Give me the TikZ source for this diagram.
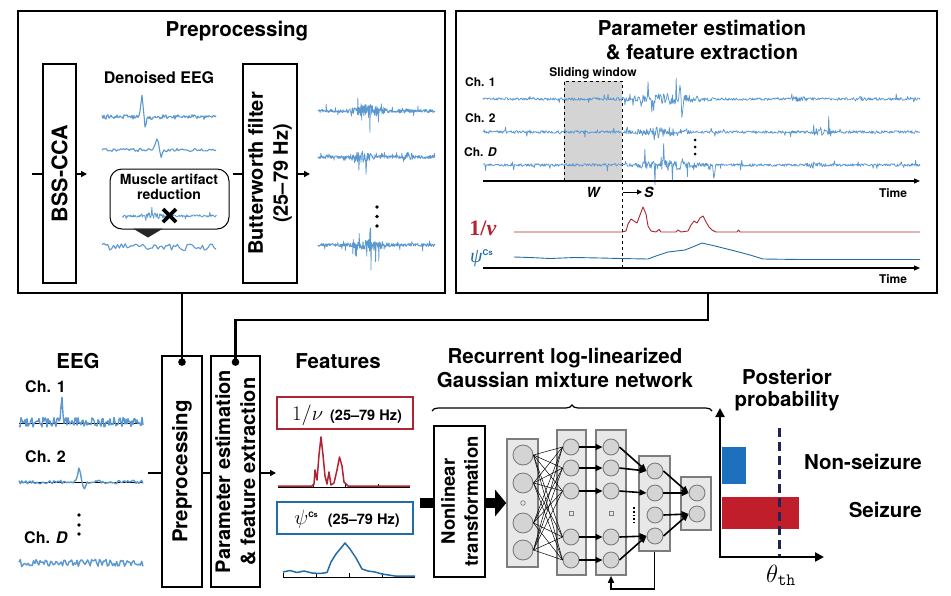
\documentclass[tikz,border=0pt]{standalone}
\usepackage{amsmath}
\usepackage[no-math]{fontspec}
\setmainfont{TeX Gyre Heros}
\newfontfamily\grserif{Liberation Serif}
\usetikzlibrary{arrows.meta,decorations.pathreplacing,calc}
\definecolor{eegblue}{RGB}{92,152,208}
\definecolor{fred}{RGB}{176,36,50}
\definecolor{fblue}{RGB}{34,108,168}
\definecolor{barblue}{RGB}{28,112,190}
\definecolor{barred}{RGB}{192,30,42}
\definecolor{navy}{RGB}{30,36,88}
\definecolor{laygray}{RGB}{232,232,232}
\definecolor{laydraw}{RGB}{125,125,125}
\definecolor{cirfill}{RGB}{212,212,212}
\definecolor{winfill}{RGB}{212,212,212}
\newcommand{\fsz}[2]{\fontsize{#1}{#2}\selectfont}
\begin{document}
\begin{tikzpicture}[x=1pt,y=-1pt,
  declare function={tri(\xx,\cc,\ww)=max(0,1-abs(\xx-\cc)/\ww);},
  panel/.style={draw, line width=2pt, inner sep=0pt},
  box/.style={draw, line width=1.8pt, inner sep=0pt},
  ttl/.style={font=\bfseries\fsz{20.5}{24}, inner sep=0pt},
  lab/.style={font=\bfseries\fsz{16}{18}, inner sep=0pt},
  sml/.style={font=\bfseries\fsz{12}{14}, inner sep=0pt},
  rottxt/.style={rotate=90, align=center, inner sep=0pt},
  conn/.style={line width=2.4pt},
  arr/.style={line width=1.6pt, -{Triangle[length=6pt,width=6pt]}},
  trace/.style={eegblue, line width=1.1pt, line join=round},
  ftrace/.style={eegblue, line width=0.75pt, line join=round},
  layer/.style={draw=laydraw, fill=laygray, line width=1.6pt, inner sep=0pt},
  bigneu/.style={circle, draw=laydraw, fill=cirfill, line width=0.9pt, inner sep=0pt, minimum size=20pt},
  neu/.style={circle, draw=laydraw, fill=cirfill, line width=0.9pt, inner sep=0pt, minimum size=16pt},
  net/.style={line width=1.6pt, -{Triangle[length=7pt,width=6pt]}},
  ax/.style={line width=1.2pt, -{Triangle[length=6pt,width=5pt]}}
]
\pgfmathsetseed{2718}
\useasboundingbox (0,0) rectangle (951,595);

% ================= Panel A: Preprocessing =================
\node[panel, minimum width=427pt, minimum height=282pt] (pA) at (231.5,151.5) {};
\node[ttl, anchor=base] (tA) at (237,36.5) {Preprocessing};
\node[box, minimum width=33pt, minimum height=219pt] (bss) at (59.5,173.5) {};
\node[rottxt, font=\bfseries\fsz{21.5}{24}] (bsst) at (bss) {BSS-CCA};
\node[box, minimum width=54pt, minimum height=219pt] (butter) at (270,173.5) {};
\node[rottxt, font=\bfseries\fsz{20}{25}] (buttert) at (butter) {Butterworth filter\\(25--79 Hz)};
\coordinate (ain) at (32,174);
\draw[line width=1.6pt] (ain) -- (ain -| bss.west);
\coordinate (aout) at (87,174);
\draw[arr] (bss.east |- aout) -- (aout);
\node[lab, anchor=base] (den) at (159,83) {Denoised EEG};
\draw[trace] plot[domain=102:216,samples=115] (\x,{117+2.3*rand-24*tri(\x,142,2.5)+9*tri(\x,145,2.5)});
\draw[trace] plot[domain=102:216,samples=80] (\x,{150+1.5*rand-12*tri(\x,157,4)+7*tri(\x,161,3.5)});
\draw[trace] plot[domain=102:216,samples=60] (\x,{247+3.6*rand});
\node[draw, line width=1pt, rounded corners=12pt, minimum width=119pt, minimum height=60pt, inner sep=0pt] (call) at (169.5,199) {};
\node[font=\bfseries\fsz{14}{16}, inner sep=0pt, anchor=base] (mus1) at (169,184) {Muscle artifact};
\node[font=\bfseries\fsz{14}{16}, inner sep=0pt, anchor=base] (mus2) at (169,199.5) {reduction};
\draw[trace, line width=0.8pt] plot[domain=122:217,samples=160] (\x,{216+(1.5+3.5*tri(\x,153,14))*(0.8*rand+2*(rnd>0.9)*rand)});
\draw[line width=3.6pt] (163,209) -- (176,222) (163,222) -- (176,209);
\fill[black!85] (133,228.5) -- (163,228.5) -- (148,237.5) -- cycle;
\coordinate (bin) at (233,174);
\draw[line width=1.6pt] (bin) -- (bin -| butter.west);
\coordinate (bout) at (310,174);
\draw[arr] (butter.east |- bout) -- (bout);
\draw[ftrace] plot[domain=318:435,samples=330] (\x,{111+(2.0+7*tri(\x,368,22)+2*tri(\x,405,8))*(0.8*rand+3*(rnd>0.92)*rand)});
\draw[ftrace] plot[domain=318:435,samples=330] (\x,{157+(2.0+6*tri(\x,362,16)+5*tri(\x,408,6))*(0.8*rand+3*(rnd>0.92)*rand)});
\draw[ftrace] plot[domain=318:435,samples=330] (\x,{245+(2.0+6*tri(\x,370,22))*(0.8*rand+3*(rnd>0.92)*rand)});
\foreach \yy in {207,216.5,226} \fill (377,\yy) circle (1.8);

% ================= Panel B: Parameter estimation =================
\node[panel, minimum width=481pt, minimum height=282pt] (pB) at (696.5,151.5) {};
\node[ttl, anchor=base] (tB1) at (702,35) {Parameter estimation};
\node[ttl, anchor=base] (tB2) at (702,59) {\& feature extraction};
\fill[winfill] (564,81) rectangle (622,181);
\draw[dashed, line width=0.8pt] (564,181) -- (564,81) -- (622,81) -- (622,268);
\node[font=\bfseries\fsz{12}{14}, inner sep=0pt, anchor=base] (slw) at (593,76) {Sliding window};
\node[sml, anchor=base west] (c1) at (465,86) {Ch. 1};
\node[sml, anchor=base west] (c2) at (465,122) {Ch. 2};
\node[sml, anchor=base west] (cD) at (464,156) {Ch. \textit{D}};
\draw[ftrace] plot[domain=483:920,samples=700] (\x,{99+(1.7+6*tri(\x,665,50)+2.5*tri(\x,800,12)+1.5*tri(\x,860,10))*(0.8*rand+3*(rnd>0.94)*rand)-14*tri(\x,680,1.5)+16*tri(\x,682,1.5)});
\draw[ftrace] plot[domain=483:920,samples=700] (\x,{132+(1.7+5.5*tri(\x,660,35)+5*tri(\x,822,14))*(0.8*rand+3*(rnd>0.94)*rand)});
\draw[ftrace] plot[domain=483:920,samples=700] (\x,{165+(1.7+5.5*tri(\x,668,45)+3*tri(\x,815,12))*(0.8*rand+3*(rnd>0.94)*rand)+15*tri(\x,714,1.5)});
\foreach \yy in {140,147,154} \fill (695,\yy) circle (1.5);
\coordinate (ax1a) at (483,181); \coordinate (ax1b) at (920,181);
\draw[ax] (ax1a) -- (ax1b);
\node[font=\bfseries\itshape\fsz{14}{16}, inner sep=0pt, anchor=base] (wl) at (593,197) {W};
\coordinate (sa) at (623,192); \coordinate (sb) at (642,192);
\draw[line width=1pt, -{Triangle[length=5pt,width=5pt]}] (sa) -- (sb);
\node[font=\bfseries\itshape\fsz{14}{16}, inner sep=0pt, anchor=base west] (sl) at (644,197) {S};
\node[sml, anchor=base] (tm1) at (893,197) {Time};
\node[text=fred, font=\grserif\bfseries\fsz{22}{24}, inner sep=0pt, anchor=base] (nul) at (483,235) {1/\textit{ν}};
\node[text=fblue, font=\grserif\itshape\fsz{20}{22}, inner sep=0pt, anchor=base west] (psl) at (470,262) {ψ\raisebox{7pt}{\normalfont\bfseries\fsz{8}{9}Cs}};
\draw[fred, line width=0.9pt, line join=round] (514,232) -- (622,232) -- (626,231) -- (628,224) -- (631,219) -- (634,221) -- (637,223) -- (640,215) -- (643,207) -- (646,214) -- (648,226) -- (651,231) -- (656,232) -- (659,229.5) -- (661,232) -- (676,232) -- (678,230) -- (681,232) -- (688,231) -- (691,225) -- (694,221) -- (697,223) -- (700,218) -- (703,216) -- (706,222) -- (709,227) -- (712,230) -- (716,232) -- (737,232) -- (738.5,230) -- (740,232) -- (920,232);
\draw[fblue, line width=0.9pt, line join=round] (514,257) -- (530,257.5) -- (550,258.5) -- (575,257.5) -- (600,258) -- (620,258.5) -- (648,259) -- (656,256) -- (668,252) -- (685,250) -- (695,246) -- (702,243) -- (715,246) -- (735,251) -- (750,255) -- (763,259) -- (800,259.5) -- (920,259.5);
\coordinate (ax2a) at (483,268); \coordinate (ax2b) at (920,268);
\draw[ax] (ax2a) -- (ax2b);
\node[sml, anchor=base] (tm2) at (893,283) {Time};

% ================= Bottom: EEG =================
\node[ttl, anchor=base] (eegt) at (78,368) {EEG};
\node[lab, anchor=base west] (e1) at (25,392) {Ch. 1};
\node[lab, anchor=base west] (e2) at (25,462) {Ch. 2};
\node[lab, anchor=base west] (eD) at (24,543) {Ch. \textit{D}};
\draw[line width=0.8pt] (19,423) -- (143,423);
\draw[trace, line width=1.4pt] plot[domain=19:143,samples=125] (\x,{422+5*rand-24*tri(\x,62,2)});
\draw[line width=0.8pt] (19,482) -- (143,482);
\draw[trace, line width=1.4pt] plot[domain=19:143,samples=90] (\x,{482+1.8*rand-13*tri(\x,79,4)+6*tri(\x,84,4)});
\draw[trace, line width=1.4pt] plot[domain=19:143,samples=95] (\x,{563+3.6*rand});
\foreach \yy in {515,525,534} \fill (79,\yy) circle (1.8);

\node[box, minimum width=40pt, minimum height=231pt] (pre) at (182,471.5) {};
\node[rottxt, font=\bfseries\fsz{20.5}{24}] (pret) at (pre) {Preprocessing};
\node[box, minimum width=49pt, minimum height=231pt] (par) at (235.5,471.5) {};
\node[rottxt, font=\bfseries\fsz{20}{25}] (part) at (par) {Parameter estimation\\\& feature extraction};
\coordinate (eout) at (148,473);
\draw[line width=1.6pt] (eout) -- (eout -| pre.west);
\draw[line width=1.6pt] (pre.east |- eout) -- (par.west |- eout);
\coordinate (pout) at (276,473);
\draw[arr] (par.east |- pout) -- (pout);

% connectors from panels
\draw[conn] (pA.south -| pre.north) -- ([yshift=-7pt]pre.north);
\fill ([yshift=-7pt]pre.north) circle (3.8);
\draw[conn] ($(pB.south)+(11.5,0)$) -- ++(0,26.5) -| ([yshift=-7pt]par.north);
\fill ([yshift=-7pt]par.north) circle (3.8);

% ================= Features =================
\node[ttl, anchor=base] (feat) at (338,368) {Features};
\node[draw=fred, line width=2pt, minimum width=136pt, minimum height=32pt, inner sep=0pt] (rbox) at (345,413) {};
\node[inner sep=0pt, anchor=base] (rboxt) at (347,420) {{\fsz{20}{22}$1/\nu$}\hspace{7pt}{\bfseries\fsz{14.5}{16}(25--79 Hz)}};
\draw[line width=0.8pt] (278,487) -- (410,487);
\foreach \xx in {313,345,378} \draw[line width=0.8pt] (\xx,487) -- (\xx,484);
\draw[fred, line width=1.5pt, line join=round] (278,486) -- (312,486) -- (314,484) -- (315,470) -- (317,480) -- (319,455) -- (321,437) -- (323,455) -- (325,476) -- (327,484) -- (329,472) -- (331,485) -- (334,483) -- (337,470) -- (339.5,457) -- (342,466) -- (344,482) -- (348,486) -- (410,486);
\node[draw=fblue, line width=2pt, minimum width=136pt, minimum height=32pt, inner sep=0pt] (bbox) at (345,518) {};
\node[inner sep=0pt, anchor=base] (bboxt) at (347,524) {{\fsz{20}{22}$\psi$\raisebox{7pt}{\bfseries\fsz{7.5}{8}Cs}}\hspace{10pt}{\bfseries\fsz{14.5}{16}(25--79 Hz)}};
\draw[line width=0.8pt] (283,577) -- (415,577);
\foreach \xx in {283,316,349,382} \draw[line width=0.8pt] (\xx,577) -- (\xx,573);
\draw[fblue, line width=1.5pt, line join=round] (283,572) -- (290,570.5) -- (297,572.5) -- (304,571) -- (312,573) -- (320,573.5) -- (327,572.5) -- (331,562) -- (336,554) -- (341,548) -- (345,543) -- (350,549) -- (356,558) -- (362,569) -- (368,571) -- (375,572) -- (382,574) -- (395,576) -- (415,576);

% ================= Network =================
\node[ttl, anchor=base] (rt1) at (565,363) {Recurrent log-linearized};
\node[ttl, anchor=base] (rt2) at (565,387) {Gaussian mixture network};
\draw[decorate, decoration={brace, amplitude=6pt}, line width=1.2pt] (432,411) -- (712,411);
\node[box, minimum width=51pt, minimum height=151pt] (nl) at (459.5,501.5) {};
\node[rottxt, font=\bfseries\fsz{18.5}{23}] (nlt) at (nl) {Nonlinear\\transformation};
\coordinate (blk) at (420,503);
\draw[line width=10pt] (blk) -- (blk -| nl.west);

\node[layer, minimum width=31pt, minimum height=128pt] (L1) at (522.5,503) {};
\node[layer, minimum width=29pt, minimum height=145pt] (L2) at (571.5,502.5) {};
\node[layer, minimum width=30pt, minimum height=145pt] (L3) at (611,502.5) {};
\node[layer, minimum width=31pt, minimum height=95pt] (L4) at (654.5,503.5) {};
\node[layer, minimum width=30pt, minimum height=53pt] (L5) at (696,503.5) {};
\draw[line width=10pt, -{Triangle[length=11pt,width=26pt]}] (nl.east |- L1.west) -- (L1.west);

\foreach \n/\yy in {a/455,b/483,c/523,d/550} \node[bigneu] (L1\n) at (523,\yy) {};
\foreach \n/\yy in {a/447,b/468,c/491,d/537,e/560} {
  \node[neu] (L2\n) at (571,\yy) {};
  \node[neu] (L3\n) at (611,\yy) {};
}
\foreach \n/\yy in {a/471,b/493,c/515,d/536} \node[neu] (L4\n) at (655,\yy) {};
\foreach \n/\yy in {a/493,b/514} \node[neu] (L5\n) at (697,\yy) {};
\draw[laydraw, line width=0.7pt] (523,503) circle (2.3);
\draw[laydraw, line width=0.7pt] (569,511) rectangle (573,515);
\draw[laydraw, line width=0.7pt] (609,511) rectangle (613,515);
\foreach \i in {a,b,c,d} \foreach \j in {a,b,c,d,e} \draw[line width=0.5pt] (L1\i.east) -- (L2\j.west);
\foreach \n in {a,b,c,d,e} \draw[net] (L2\n.east) -- (L3\n.west);
\draw[net] (L3a.east) -- (L4a.west);
\draw[net] (L3b.east) -- (L4a.west);
\draw[net] (L3c.east) -- (L4b.west);
\draw[net] (L3d.east) -- (L4d.west);
\draw[net] (L3e.east) -- (L4d.west);
\draw[net] (L4a.east) -- (L5a.west);
\draw[net] (L4b.east) -- (L5a.west);
\draw[net] (L4c.east) -- (L5b.west);
\draw[net] (L4d.east) -- (L5b.west);
\draw[line width=1.8pt, dotted] (634,507) -- (634,523);
\draw[net] (L4.south) -- ++(0,37) -| (L3.south);

% ================= Posterior =================
\node[ttl, anchor=base] (po1) at (787,384) {Posterior};
\node[ttl, anchor=base] (po2) at (787,406) {probability};
\coordinate (O) at (720,557);
\coordinate (Ytop) at (720,408);
\coordinate (Xend) at (824,557);
\fill[barblue] (722,447) rectangle (746,484);
\fill[barred] (722,497) rectangle (799,529);
\draw[navy, line width=3pt, dash pattern=on 9pt off 5pt] (779,428) -- (779,557);
\draw[line width=2.6pt, -{Triangle[length=9pt,width=9pt]}] (O) -- (Ytop);
\draw[line width=2.6pt, -{Triangle[length=9pt,width=9pt]}] ([xshift=-1.3pt]O) -- (Xend);
\node[ttl, anchor=base east] (ns) at (922,469) {Non-seizure};
\node[ttl, anchor=base east] (sz) at (922,517) {Seizure};
\node[inner sep=0pt, anchor=base] (th) at (781,582) {\fsz{23}{25}$\theta_{\mathtt{th}}$};
\end{tikzpicture}
\end{document}
